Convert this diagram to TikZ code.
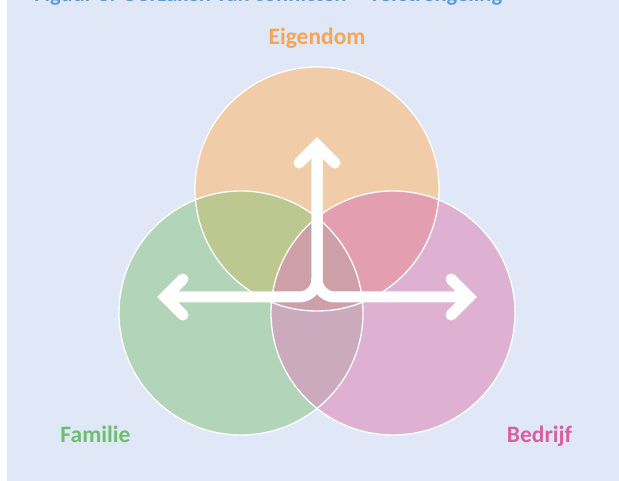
\documentclass[tikz,border=0pt]{standalone}
\usepackage{fontspec}
\usetikzlibrary{calc}
\setmainfont{Carlito}
\definecolor{panel}{HTML}{E0E8F7}
\definecolor{ownfill}{HTML}{F0CCA8}
\definecolor{famfill}{HTML}{B2D4B8}
\definecolor{bizfill}{HTML}{DEB0D2}
\definecolor{ownfam}{HTML}{BDC891}
\definecolor{ownbiz}{HTML}{E39FB0}
\definecolor{fambiz}{HTML}{CCAABE}
\definecolor{allthree}{HTML}{CDA0A8}
\definecolor{owntext}{HTML}{F4A55A}
\definecolor{famtext}{HTML}{6EBE70}
\definecolor{biztext}{HTML}{D9609E}
\definecolor{titletext}{HTML}{5B9BD5}
\tikzset{
  label/.style={font=\bfseries\fontsize{23.5}{26}\selectfont, anchor=base, inner sep=0pt},
  ring/.style={draw=white, line width=1.3pt},
  arrowline/.style={draw=white, line width=11pt, line cap=round},
  arrowhead/.style={draw=white, line width=11pt, line cap=round, line join=miter}
}
\begin{document}
\begin{tikzpicture}[x=1pt, y=-1pt]
  % page and panel
  \useasboundingbox (0,0) rectangle (619,481);
  \fill[white] (0,0) rectangle (619,481);
  \fill[panel] (7,0) rectangle (619,481);

  % caption, cut by the top edge
  \begin{scope}
    \clip (7,0) rectangle (619,481);
    \node[font=\bfseries\fontsize{22.5}{26}\selectfont, text=titletext, anchor=base west, inner sep=0pt]
      (caption) at (34,2) {Figuur 3: Oorzaken van conflicten – Verstrengeling};
  \end{scope}

  % circle centres
  \def\rad{122pt}
  \coordinate (own) at (317,189);
  \coordinate (fam) at (241,313);
  \coordinate (biz) at (393,313);

  % single areas
  \fill[ownfill] (own) circle (\rad);
  \fill[famfill] (fam) circle (\rad);
  \fill[bizfill] (biz) circle (\rad);

  % overlaps
  \begin{scope}
    \clip (own) circle (\rad);
    \fill[ownfam] (fam) circle (\rad);
    \fill[ownbiz] (biz) circle (\rad);
  \end{scope}
  \begin{scope}
    \clip (fam) circle (\rad);
    \fill[fambiz] (biz) circle (\rad);
  \end{scope}
  \begin{scope}
    \clip (own) circle (\rad);
    \clip (fam) circle (\rad);
    \fill[allthree] (biz) circle (\rad);
  \end{scope}

  % outlines
  \draw[ring] (own) circle (\rad);
  \draw[ring] (fam) circle (\rad);
  \draw[ring] (biz) circle (\rad);

  % arrows
  \coordinate (up) at (317,145);
  \coordinate (left) at (165,297);
  \coordinate (right) at (469,297);
  \coordinate (join) at (317,297);
  \draw[arrowline, rounded corners=18pt] (left) -- (join) -- (up);
  \draw[arrowline, rounded corners=18pt] (right) -- (join) -- (up);
  \draw[arrowhead] ($(up)+(-18,18)$) -- (up) -- ($(up)+(18,18)$);
  \draw[arrowhead] ($(left)+(18,-18)$) -- (left) -- ($(left)+(18,18)$);
  \draw[arrowhead] ($(right)+(-18,-18)$) -- (right) -- ($(right)+(-18,18)$);

  % labels
  \node[label, text=owntext] (ownlabel) at (317,45) {Eigendom};
  \node[label, text=famtext] (famlabel) at (95.5,442) {Familie};
  \node[label, text=biztext] (bizlabel) at (539.5,442) {Bedrijf};
\end{tikzpicture}
\end{document}
